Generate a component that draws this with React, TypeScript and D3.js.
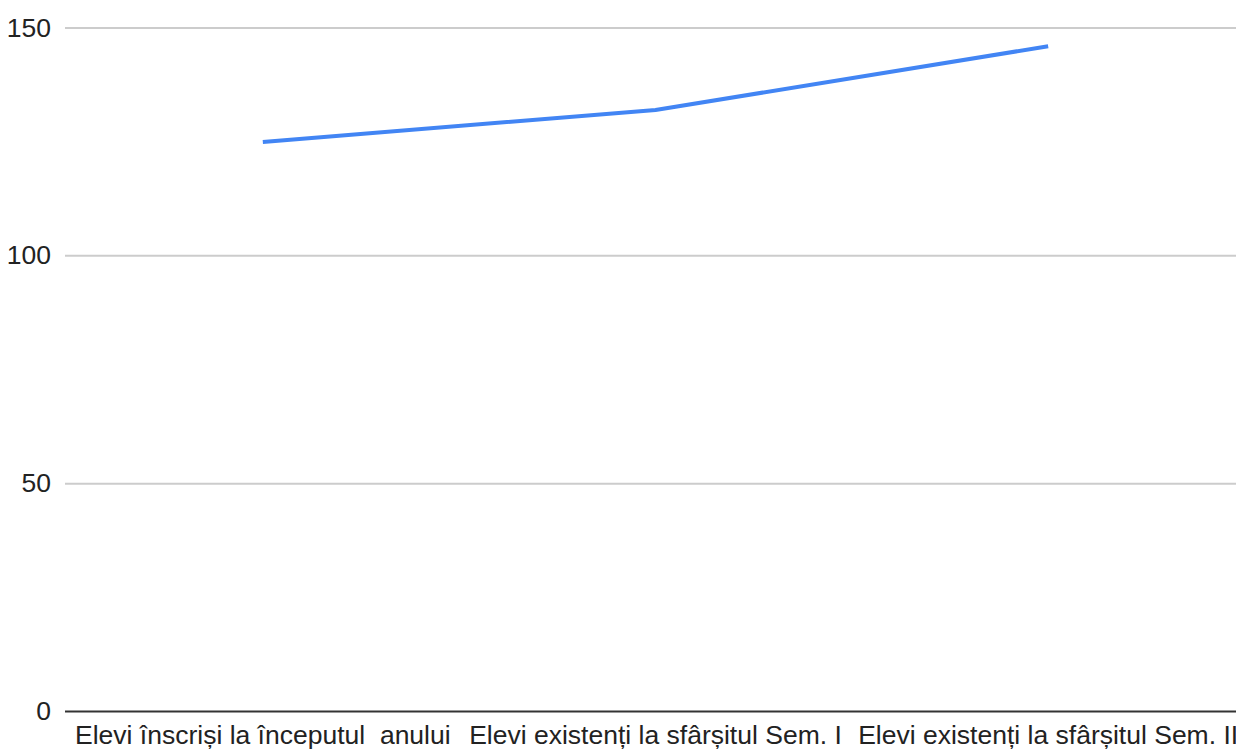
import React from "react";
import * as d3 from "d3";

const categories = [
  "Elevi înscriși la începutul  anului",
  "Elevi existenți la sfârșitul Sem. I",
  "Elevi existenți la sfârșitul Sem. II",
];
const values = [125, 132, 146];
const yTicks = [0, 50, 100, 150];

const W = 1236;
const H = 750;
const left = 66.5;
const right = 1244.5;
const top = 28;
const bottom = 711.5;
const FONT = "Arial, 'Liberation Sans', sans-serif";

export default function App() {
  const x = d3.scaleBand<string>().domain(categories).range([left, right]).padding(0);
  const y = d3.scaleLinear().domain([0, 150]).range([bottom, top]);
  const cx = (c: string) => (x(c) as number) + x.bandwidth() / 2;
  const line = d3
    .line<number>()
    .x((_, i) => cx(categories[i]))
    .y((d) => y(d));

  return (
    <svg
      width={W}
      height={H}
      style={{ position: "absolute", left: 0, top: 0, background: "#fff" }}
    >
      <rect x={0} y={0} width={W} height={H} fill="#fff" />
      {yTicks.map((t) =>
        t === 0 ? null : (
          <line
            key={t}
            x1={65}
            x2={W}
            y1={y(t)}
            y2={y(t)}
            stroke="#cccccc"
            strokeWidth={2}
          />
        )
      )}
      {yTicks.map((t) => (
        <text
          key={"l" + t}
          x={51}
          y={y(t) + 8.5}
          textAnchor="end"
          fontFamily={FONT}
          fontSize={26.5}
          fill="#222"
        >
          {t}
        </text>
      ))}
      <line x1={65} x2={W} y1={y(0)} y2={y(0)} stroke="#333" strokeWidth={2} />
      <path
        d={line(values) || ""}
        fill="none"
        stroke="#4285f4"
        strokeWidth={4}
        strokeLinejoin="round"
      />
      {categories.map((c) => (
        <text
          key={c}
          x={cx(c)}
          y={744}
          textAnchor="middle"
          fontFamily={FONT}
          fontSize={26.5}
          fill="#222"
          style={{ whiteSpace: "pre" }}
        >
          {c}
        </text>
      ))}
    </svg>
  );
}
